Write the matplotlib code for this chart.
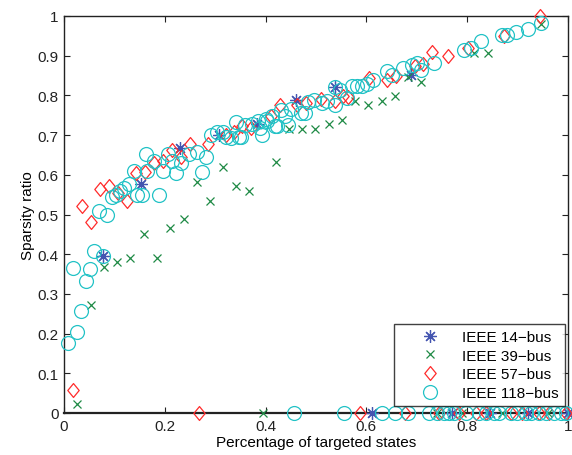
import matplotlib
matplotlib.use("Agg")
import matplotlib.pyplot as plt
from matplotlib.path import Path

plt.rcParams['font.family'] = ['Liberation Sans', 'DejaVu Sans']

# ---- data ----
x14 = [0.077, 0.152, 0.230, 0.307, 0.382, 0.461, 0.537, 0.689,
       0.612, 0.770, 0.845, 0.920, 1.000]
y14 = [0.396, 0.576, 0.667, 0.700, 0.727, 0.788, 0.820, 0.851,
       0, 0, 0, 0, 0]

x39 = [0.026, 0.053, 0.079, 0.105, 0.131, 0.184, 0.158, 0.210, 0.238, 0.289,
       0.263, 0.315, 0.342, 0.368, 0.420, 0.446, 0.473, 0.499, 0.525, 0.552,
       0.578, 0.604, 0.630, 0.657, 0.683, 0.709, 0.814, 0.841, 0.946,
       0.394, 0.740, 0.790, 0.870, 0.960]
y39 = [0.023, 0.273, 0.369, 0.381, 0.391, 0.391, 0.452, 0.465, 0.488, 0.535,
       0.583, 0.619, 0.571, 0.560, 0.631, 0.715, 0.715, 0.715, 0.727, 0.737,
       0.785, 0.775, 0.785, 0.798, 0.846, 0.833, 0.906, 0.906, 0.980,
       0, 0, 0, 0, 0]

x57 = [0.017, 0.036, 0.053, 0.071, 0.089, 0.107, 0.125, 0.143, 0.160, 0.178,
       0.196, 0.214, 0.232, 0.250, 0.285, 0.321, 0.337, 0.354, 0.372, 0.410,
       0.428, 0.463, 0.481, 0.509, 0.537, 0.553, 0.564, 0.606, 0.640, 0.659,
       0.697, 0.713, 0.731, 0.762, 0.802, 0.873, 0.945,
       0.268, 0.588, 0.677, 0.745, 0.784, 0.818, 0.838, 0.887, 0.909, 0.943,
       0.962, 0.996]
y57 = [0.058, 0.522, 0.482, 0.563, 0.573, 0.553, 0.535, 0.604, 0.606, 0.629,
       0.634, 0.662, 0.644, 0.677, 0.677, 0.699, 0.707, 0.722, 0.717, 0.747,
       0.775, 0.775, 0.780, 0.790, 0.785, 0.798, 0.795, 0.843, 0.838, 0.848,
       0.874, 0.879, 0.909, 0.899, 0.919, 0.949, 1.000,
       0, 0, 0, 0, 0, 0, 0, 0, 0, 0, 0, 0]

x118 = [0.008, 0.026, 0.034, 0.017, 0.043, 0.051, 0.059, 0.077, 0.069, 0.085,
        0.095, 0.103, 0.111, 0.119, 0.129, 0.145, 0.154, 0.188, 0.139, 0.164,
        0.196, 0.222, 0.162, 0.178, 0.206, 0.214, 0.232, 0.248, 0.263, 0.281,
        0.273, 0.291, 0.303, 0.315, 0.331, 0.342, 0.352, 0.360, 0.374, 0.384,
        0.321, 0.348, 0.388, 0.400, 0.412, 0.422, 0.430, 0.392, 0.402, 0.418,
        0.438, 0.444, 0.451, 0.471, 0.478, 0.485, 0.497, 0.511, 0.521, 0.537,
        0.537, 0.547, 0.562, 0.572, 0.582, 0.592, 0.602, 0.614, 0.640, 0.650,
        0.673, 0.691, 0.701, 0.709, 0.735, 0.794, 0.808, 0.828, 0.869, 0.879,
        0.897, 0.921, 0.947,
        0.457, 0.555, 0.630, 0.657, 0.683, 0.725, 0.741, 0.754, 0.764, 0.774,
        0.798, 0.824, 0.838, 0.853, 0.863, 0.887, 0.899, 0.917, 0.927, 0.943,
        0.956, 0.972, 0.986, 0.996]
y118 = [0.177, 0.205, 0.256, 0.366, 0.333, 0.362, 0.409, 0.395, 0.508, 0.498,
        0.545, 0.548, 0.558, 0.566, 0.578, 0.548, 0.550, 0.550, 0.609, 0.609,
        0.609, 0.604, 0.652, 0.634, 0.652, 0.634, 0.629, 0.652, 0.657, 0.646,
        0.606, 0.700, 0.707, 0.707, 0.692, 0.732, 0.694, 0.725, 0.727, 0.735,
        0.694, 0.694, 0.717, 0.740, 0.747, 0.722, 0.763, 0.700, 0.735, 0.722,
        0.747, 0.725, 0.765, 0.755, 0.755, 0.783, 0.788, 0.780, 0.785, 0.775,
        0.820, 0.813, 0.793, 0.823, 0.823, 0.823, 0.828, 0.838, 0.861, 0.851,
        0.869, 0.876, 0.881, 0.864, 0.881, 0.914, 0.919, 0.937, 0.952, 0.952,
        0.960, 0.967, 0.982,
        0, 0, 0, 0, 0, 0, 0, 0, 0, 0,
        0, 0, 0, 0, 0, 0, 0, 0, 0, 0,
        0, 0, 0, 0]

labels = ['IEEE 14\u2212bus', 'IEEE 39\u2212bus', 'IEEE 57\u2212bus', 'IEEE 118\u2212bus']
xticks = [0, 0.2, 0.4, 0.6, 0.8, 1]
xtick_labels = ['0', '0.2', '0.4', '0.6', '0.8', '1']
yticks = [0, 0.1, 0.2, 0.3, 0.4, 0.5, 0.6, 0.7, 0.8, 0.9, 1]
ytick_labels = ['0', '0.1', '0.2', '0.3', '0.4', '0.5', '0.6', '0.7', '0.8', '0.9', '1']

c_blue = '#4455b0'
c_green = '#1f8a45'
c_red = '#ff2b2b'
c_cyan = '#22c2c6'

diamond = Path([(0, 1), (0.82, 0), (0, -1), (-0.82, 0), (0, 1)],
               [Path.MOVETO, Path.LINETO, Path.LINETO, Path.LINETO, Path.CLOSEPOLY])

fig = plt.figure(figsize=(5.72, 4.56), dpi=100)
ax = fig.add_axes([64/572, 42/456, 504/572, 397/456])

ax.plot(x14, y14, linestyle='none', marker=(8, 2, 0), markersize=9,
        markeredgewidth=0.9, color=c_blue, label=labels[0], clip_on=False, zorder=3)
ax.plot(x39, y39, linestyle='none', marker='x', markersize=6,
        markeredgewidth=0.9, color=c_green, label=labels[1], clip_on=False, zorder=3)
ax.plot(x57, y57, linestyle='none', marker=diamond, markersize=10,
        markeredgewidth=0.9, markerfacecolor='none', markeredgecolor=c_red,
        label=labels[2], clip_on=False, zorder=3)
ax.plot(x118, y118, linestyle='none', marker='o', markersize=10,
        markeredgewidth=0.9, markerfacecolor='none', markeredgecolor=c_cyan,
        label=labels[3], clip_on=False, zorder=3)

ax.set_xlim(0, 1)
ax.set_ylim(0, 1)
ax.set_xticks(xticks)
ax.set_xticklabels(xtick_labels)
ax.set_yticks(yticks)
ax.set_yticklabels(ytick_labels)
ax.tick_params(direction='in', top=True, right=True, labelsize=11,
               length=4, width=0.8, colors='#222222', pad=4)
for s in ax.spines.values():
    s.set_linewidth(1.0)
    s.set_color('#222222')
ax.spines['bottom'].set_linewidth(1.6)

ax.set_xlabel('Percentage of targeted states', fontsize=11, labelpad=2)
ax.set_ylabel('Sparsity ratio', fontsize=11, labelpad=2)

leg = ax.legend(loc='lower right', bbox_to_anchor=(1 - 3/504, 7/397),
                borderaxespad=0, fontsize=11, frameon=True, fancybox=False,
                edgecolor='#111111', labelspacing=0.3, handletextpad=0.15,
                handlelength=3.9, borderpad=0.4)
leg.get_frame().set_linewidth(1.0)
leg.set_zorder(5)

fig.savefig('out.png', dpi=100)
